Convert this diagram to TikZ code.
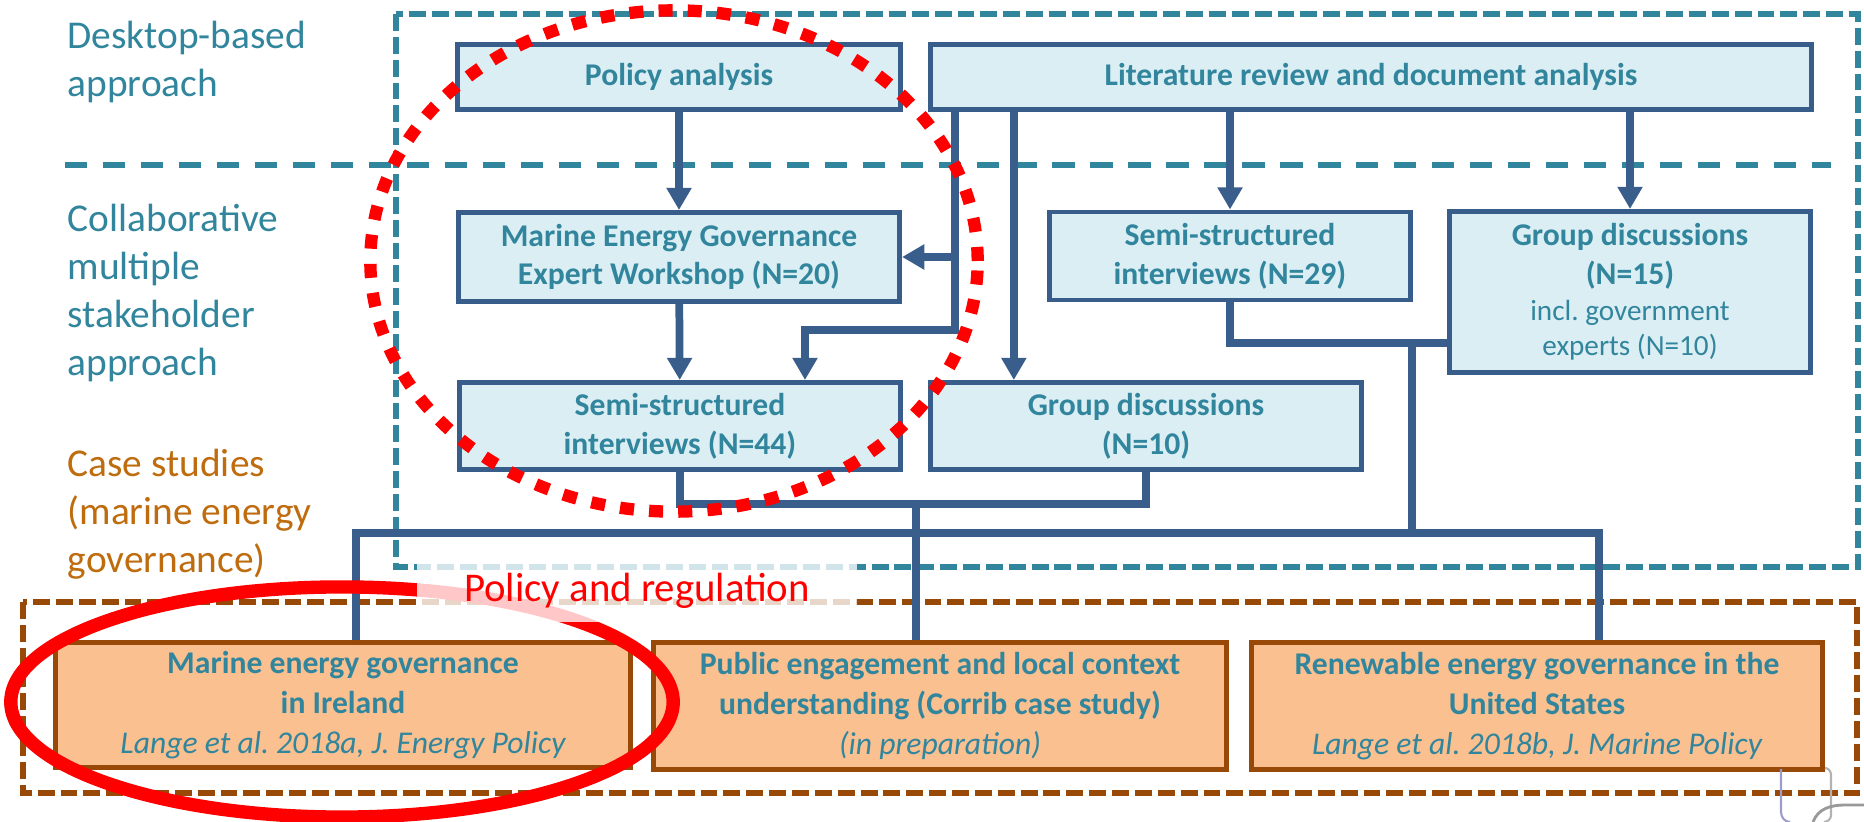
\documentclass[tikz,border=0pt]{standalone}
\usepackage{fontspec}
\setmainfont{Carlito}
\usepackage{tikz}
\usetikzlibrary{arrows.meta,positioning}
\frenchspacing

\definecolor{tealtxt}{RGB}{49,133,156}
\definecolor{boxline}{RGB}{56,93,138}
\definecolor{boxfill}{RGB}{219,238,244}
\definecolor{orfill}{RGB}{250,192,144}
\definecolor{orline}{RGB}{152,72,7}
\definecolor{casetxt}{RGB}{190,108,14}
\definecolor{linkblue}{RGB}{58,94,139}

\begin{document}
\begin{tikzpicture}[x=0.01cm,y=-0.01cm,
  box/.style={draw=boxline,fill=boxfill,line width=1.4pt,text=tealtxt,align=center,inner sep=0pt,
    font=\fontsize{9}{11}\selectfont\bfseries},
  casebox/.style={box,draw=orline,fill=orfill,font=\fontsize{9}{11.4}\selectfont\bfseries},
  lab/.style={anchor=west,align=left,inner sep=0pt,text=tealtxt,font=\fontsize{11.2}{13.6}\selectfont},
  link/.style={draw=linkblue,line width=2.2pt},
  arr/.style={link,-{Triangle[width=6.8pt,length=6.3pt]}},
  frame/.style={dash pattern=on 4.8pt off 1.7pt,line width=1.5pt}
]
\useasboundingbox (0,0) rectangle (1864,822);

% row labels
\node[lab] (desk) at (67,62) {Desktop-based\\approach};
\node[lab] (collab) at (67,293) {Collaborative\\multiple\\stakeholder\\approach};
\node[lab,text=casetxt] (cases) at (67,514) {Case studies\\(marine energy\\governance)};

% frames
\draw[frame,draw=tealtxt] (396,14) rectangle (1858,567);
\draw[tealtxt,line width=1.5pt,dash pattern=on 6.3pt off 4.5pt] (65,165) -- (1831,165);
\draw[frame,draw=orline] (23,602) rectangle (1857,793);

% methods
\node[box,minimum width=4.42cm,minimum height=0.65cm] (pol) at (679,77) {Policy analysis};
\node[box,minimum width=8.81cm,minimum height=0.65cm] (lit) at (1371,77) {Literature review and document analysis};
\node[box,minimum width=4.41cm,minimum height=0.89cm] (meg) at (679,257) {Marine Energy Governance\\Expert Workshop (N=20)};
\node[box,minimum width=3.60cm,minimum height=0.88cm] (ssi29) at (1230,256) {Semi-structured\\interviews (N=29)};
\node[box,minimum width=3.60cm,minimum height=1.61cm] (gd15) at (1630,292) {Group discussions\\(N=15)\\[-0.9pt]{\fontsize{8.3}{10}\selectfont\mdseries incl. government}\\[-0.9pt]{\fontsize{8.3}{10}\selectfont\mdseries experts (N=10)}};
\node[box,minimum width=4.40cm,minimum height=0.87cm] (ssi44) at (680,426) {Semi-structured\\interviews (N=44)};
\node[box,minimum width=4.31cm,minimum height=0.87cm] (gd10) at (1146,426) {Group discussions\\(N=10)};

% case studies
\node[casebox,minimum width=5.74cm,minimum height=1.25cm] (ire) at (343,705) {Marine energy governance\\in Ireland\\{\mdseries\itshape Lange et al. 2018a, J. Energy Policy}};
\node[casebox,minimum width=5.73cm,minimum height=1.27cm] (pub) at (940,706) {Public engagement and local context\\understanding (Corrib case study)\\{\mdseries\itshape (in preparation)}};
\node[casebox,minimum width=5.71cm,minimum height=1.27cm] (usa) at (1537,706) {Renewable energy governance in the\\United States\\{\mdseries\itshape Lange et al. 2018b, J. Marine Policy}};

% arrows
\coordinate (l1) at ([xshift=0.27cm]lit.south west);
\coordinate (l2) at ([xshift=0.86cm]lit.south west);
\coordinate (k1) at (805,330);
\path (pol) edge [arr] (meg);
\path (meg) edge [arr] (ssi44);
\draw[arr] (l1) |- (k1) -- (k1 |- ssi44.north);
\draw[arr] (l1 |- meg.east) -- (meg.east);
\draw[arr] (l2) -- (l2 |- gd10.north);
\path (lit.south -| ssi29) edge [arr] (ssi29);
\path (lit.south -| gd15) edge [arr] (gd15);

% joins to the case studies
\coordinate (j1) at (916,502);
\coordinate (j2) at (1412,343);
\coordinate (b1) at (356,533);
\coordinate (b2) at (1599,533);
\draw[link] (ssi44.south) -- ++(0,32) -| (gd10.south);
\draw[link] (j1) -- (j1 |- pub.north);
\draw[link] (b1 |- ire.north) -- (b1) -- (b2) -- (b2 |- usa.north);
\draw[link] (ssi29.south) |- (j2) -- (j2 -| gd15.west);
\draw[link] (j2) -- (j2 |- b2);

% highlights
\draw[red,line width=3.5pt,dash pattern=on 4pt off 4.3pt] (674,261) ellipse [x radius=3.035cm,y radius=2.505cm];
\draw[red,line width=3.8pt] (342,702) ellipse [x radius=3.31cm,y radius=1.15cm];
\node[fill=white,fill opacity=0.78,text opacity=1,text=red,inner sep=0pt,minimum width=4.4cm,minimum height=0.62cm,
  font=\fontsize{11.6}{14}\selectfont] (reg) at (637,591) {Policy and regulation};

% cut-off shape, bottom right
\draw[blue!30!gray!60,line width=0.6pt] (1781,769) -- (1781,812) to[out=-90,in=180] (1790,822);
\draw[gray!60,line width=0.6pt] (1825,768) to[out=0,in=90] (1831,775) -- (1831,815) to[out=-90,in=0] (1824,822);
\draw[gray!80,line width=0.8pt] (1813,822) to[out=70,in=180] (1845,805) -- (1864,805);
\end{tikzpicture}
\end{document}
